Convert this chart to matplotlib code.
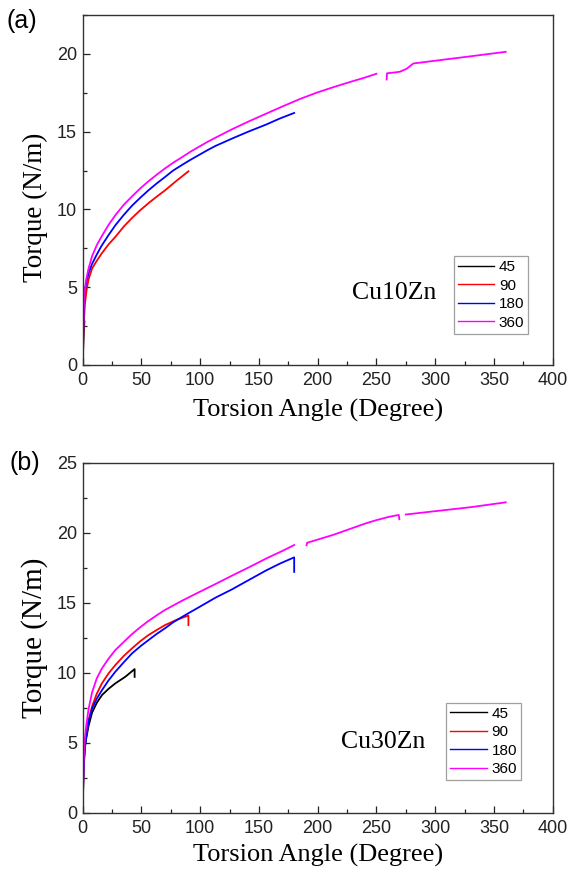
import numpy as np
import matplotlib
matplotlib.use("Agg")
import matplotlib.pyplot as plt
from matplotlib.ticker import MultipleLocator

nan = np.nan

# ---------- Panel (a): Cu10Zn ----------
a45_x = [0, 0.5, 1.0, 1.5]
a45_y = [0, 1.2, 2.2, 2.8]
a90_x = [0, 0.5, 1, 2, 3.5, 5, 8, 12, 16, 22, 28, 35, 42, 49, 56, 63, 70, 80, 90]
a90_y = [0, 1.6, 2.8, 4.0, 4.9, 5.5, 6.2, 6.7, 7.15, 7.75, 8.25, 8.9, 9.45, 9.95, 10.4, 10.82, 11.22, 11.85, 12.45]
a180_x = [0, 0.5, 1, 2, 3, 5, 8, 12, 16, 22, 28, 35, 42, 49, 56, 63, 70, 77, 85, 92, 99, 106, 113, 127, 141, 156, 168, 180]
a180_y = [0, 2.2, 3.6, 4.8, 5.3, 5.9, 6.5, 7.1, 7.65, 8.35, 9.0, 9.65, 10.24, 10.75, 11.23, 11.67, 12.08, 12.5, 12.88,
          13.2, 13.5, 13.8, 14.08, 14.55, 15.0, 15.45, 15.85, 16.2]
a360_x = [0, 0.5, 1, 2, 3, 5, 8, 12, 16, 22, 28, 35, 42, 49, 56, 63, 70, 77, 85, 92, 99, 106, 113, 127, 142, 156,
          171, 185, 199, 213, 227, 240, 250,
          nan, 258.7, 259, 265, 270, 275.7, 281.4, 296, 330, 360]
a360_y = [0, 2.3, 3.7, 4.9, 5.5, 6.2, 7.0, 7.7, 8.25, 9.0, 9.65, 10.3, 10.84, 11.35, 11.81, 12.23, 12.63, 13.0, 13.38,
          13.72, 14.03, 14.33, 14.61, 15.15, 15.68, 16.15, 16.65, 17.1, 17.5, 17.85, 18.18, 18.47, 18.72,
          nan, 18.35, 18.75, 18.8, 18.85, 19.04, 19.38, 19.52, 19.84, 20.13]

# ---------- Panel (b): Cu30Zn ----------
b45_x = [0, 0.5, 1, 2, 3, 5, 8, 12, 16.4, 22, 27.8, 36.3, 44.2, 44.2]
b45_y = [0, 2.1, 3.5, 4.7, 5.3, 6.2, 7.15, 7.85, 8.4, 8.85, 9.24, 9.71, 10.26, 9.7]
b90_x = [0, 0.5, 1, 2, 3, 5, 8, 12, 16.4, 22, 27.8, 35, 42, 49, 56, 63, 70, 80, 90, 90]
b90_y = [0, 2.3, 3.8, 5.0, 5.7, 6.6, 7.6, 8.5, 9.24, 9.95, 10.55, 11.2, 11.74, 12.25, 12.69, 13.05, 13.4, 13.78, 14.08, 13.4]
b180_x = [0, 0.5, 1, 2, 3, 5, 8, 12, 16.4, 22, 27.8, 35, 42, 49, 56, 63, 70, 77, 84.5, 90, 99, 113, 127, 142,
          156, 168, 180, 180]
b180_y = [0, 2.2, 3.6, 4.8, 5.4, 6.5, 7.45, 8.15, 8.75, 9.45, 10.07, 10.75, 11.38, 11.88, 12.33, 12.77, 13.17, 13.6,
          13.98, 14.25, 14.68, 15.36, 15.95, 16.65, 17.3, 17.8, 18.24, 17.2]
b360_x = [0, 0.5, 1, 2, 3, 5, 8, 12, 16.4, 22, 27.8, 35, 42, 49, 56, 63, 70, 84.5, 98.7, 112.9, 127, 142, 156, 170, 180,
          nan, 190.5, 191, 213, 241, 250, 261, 269, 269.5,
          nan, 275, 296, 330, 360]
b360_y = [0, 2.5, 4.0, 5.4, 6.2, 7.4, 8.6, 9.6, 10.31, 11.0, 11.62, 12.2, 12.76, 13.25, 13.7, 14.1, 14.48, 15.14,
          15.74, 16.33, 16.93, 17.55, 18.15, 18.7, 19.12,
          nan, 19.1, 19.28, 19.84, 20.67, 20.9, 21.14, 21.27, 20.96,
          nan, 21.3, 21.5, 21.82, 22.17]

labels = ["45", "90", "180", "360"]
colors = ["black", "#FF0000", "#0000FF", "#FF00FF"]

panels = [
    dict(tag="(a)", name="Cu10Zn", ymax=22.5, yticks=[0, 5, 10, 15, 20],
         data=[(a45_x, a45_y), (a90_x, a90_y), (a180_x, a180_y), (a360_x, a360_y)],
         rect=[0.1423, 0.5824, 0.809, 0.4005], leg=(0.948, 0.311), txt=(0.752, 0.205),
         ylab_y=0.45, ylab_size=19.5, xlab_y=-0.098),
    dict(tag="(b)", name="Cu30Zn", ymax=25, yticks=[0, 5, 10, 15, 20, 25],
         data=[(b45_x, b45_y), (b90_x, b90_y), (b180_x, b180_y), (b360_x, b360_y)],
         rect=[0.1423, 0.0701, 0.809, 0.4005], leg=(0.932, 0.314), txt=(0.729, 0.203),
         ylab_y=0.5, ylab_size=21, xlab_y=-0.088),
]

fig = plt.figure(figsize=(5.81, 8.74), dpi=100)
serif = ["Liberation Serif", "DejaVu Serif"]
sans = ["Liberation Sans", "DejaVu Sans"]

for p in panels:
    ax = fig.add_axes(p["rect"])
    for (x, y), lab, c in zip(p["data"], labels, colors):
        ax.plot(x, y, color=c, lw=1.3, label=lab)
    ax.set_xlim(0, 400)
    ax.set_ylim(0, p["ymax"])
    ax.xaxis.set_major_locator(MultipleLocator(50))
    ax.xaxis.set_minor_locator(MultipleLocator(25))
    ax.set_yticks(p["yticks"])
    ax.yaxis.set_minor_locator(MultipleLocator(2.5))
    ax.tick_params(which="both", direction="in", top=False, right=False,
                   labelsize=13, colors="#222222", width=0.9)
    ax.tick_params(which="major", length=5)
    ax.tick_params(which="minor", length=3)
    ax.tick_params(axis="x", which="major", pad=5)
    ax.tick_params(axis="y", which="major", pad=4)
    for lab in ax.get_xticklabels() + ax.get_yticklabels():
        lab.set_fontfamily(sans)
    for s in ax.spines.values():
        s.set_color("#333333")
        s.set_linewidth(1.0)
    ax.set_xlabel("Torsion Angle (Degree)", fontsize=19, family=serif, va="top")
    ax.xaxis.set_label_coords(0.5, p["xlab_y"])
    ax.set_ylabel("Torque (N/m)", fontsize=p["ylab_size"], family=serif)
    ax.yaxis.set_label_coords(-0.074, p["ylab_y"])
    leg = ax.legend(loc="upper right", bbox_to_anchor=p["leg"],
                    prop={"family": sans, "size": 11}, frameon=True, fancybox=False,
                    handlelength=2.4, handletextpad=0.3, borderpad=0.25,
                    labelspacing=0.3, borderaxespad=0)
    leg.get_frame().set_edgecolor("#888888")
    leg.get_frame().set_linewidth(0.9)
    for h in leg.get_lines():
        h.set_linewidth(1.0)
    ax.text(p["txt"][0], p["txt"][1], p["name"], transform=ax.transAxes,
            ha="right", va="center", fontsize=18.5, family=serif)

fig.text(7 / 581, 1 - 21 / 874, "(a)", fontsize=18, family=sans, ha="left", va="center")
fig.text(10 / 581, 1 - 463 / 874, "(b)", fontsize=18, family=sans, ha="left", va="center")

fig.savefig("out.png", dpi=100)
